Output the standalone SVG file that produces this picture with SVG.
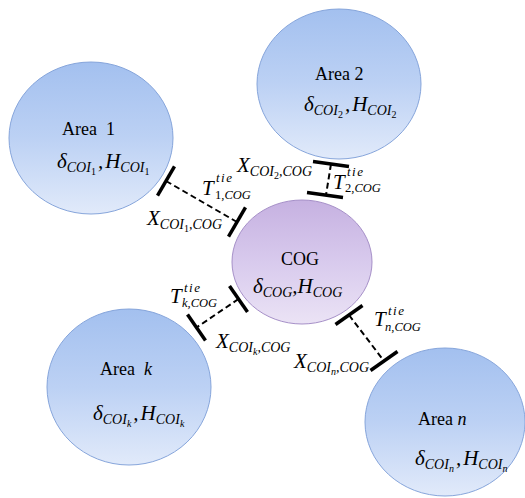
<svg xmlns="http://www.w3.org/2000/svg" width="525" height="498" viewBox="0 0 525 498">
<defs>
<linearGradient id="gb" x1="0" y1="0" x2="0" y2="1">
<stop offset="0" stop-color="#a3c0ef"/>
<stop offset="0.5" stop-color="#bcd1f4"/>
<stop offset="1" stop-color="#e1eafa"/>
</linearGradient>
<linearGradient id="gp" x1="0" y1="0" x2="0" y2="1">
<stop offset="0" stop-color="#c6b1e1"/>
<stop offset="0.5" stop-color="#d8caed"/>
<stop offset="1" stop-color="#ebe3f5"/>
</linearGradient>
<style>
.area{fill:url(#gb);stroke:#86a5db;stroke-width:1}
.cog{fill:url(#gp);stroke:#a690c8;stroke-width:1}
.n{font-family:"Liberation Serif","Times New Roman",serif;font-size:18px;fill:#000}
.m{font-family:"Liberation Serif","Times New Roman",serif;font-style:italic;font-size:21px;fill:#000}
.s{font-size:14px}
.t{font-size:12.5px}
.ss{font-size:10px}
.up{font-style:normal}
.sup{font-size:13px;letter-spacing:1.5px}
.dash{stroke:#000;stroke-width:2;stroke-dasharray:6 3.5;fill:none}
.tick{stroke:#000;stroke-width:3.5;fill:none}
</style>
</defs>
<rect width="525" height="498" fill="#fff"/>

<g id="connectors">
<line class="dash" x1="166" y1="181" x2="237" y2="222"/>
<line class="tick" x1="174.5" y1="166.3" x2="157.5" y2="195.7"/>
<line class="tick" x1="245.5" y1="207.3" x2="228.5" y2="236.7"/>

<line class="dash" x1="331" y1="164" x2="326" y2="195"/>
<line class="tick" x1="313" y1="161.5" x2="349" y2="166.5"/>
<line class="tick" x1="307" y1="192.5" x2="343" y2="197.5"/>

<line class="dash" x1="238.5" y1="299" x2="196.5" y2="327.5"/>
<line class="tick" x1="229.5" y1="286" x2="247.5" y2="312"/>
<line class="tick" x1="187.5" y1="314.5" x2="205.5" y2="340.5"/>

<line class="dash" x1="349" y1="315" x2="384" y2="361"/>
<line class="tick" x1="335.5" y1="324.5" x2="362.5" y2="305.5"/>
<line class="tick" x1="370.5" y1="370.5" x2="397.5" y2="351.5"/>

<text class="m" x="147" y="225">X<tspan class="s" dy="4">COI</tspan><tspan class="ss up" dy="3">1</tspan><tspan class="s" dy="-3">,COG</tspan></text>
<text class="m" x="202" y="195">T<tspan class="sup" x="216" y="182">tie</tspan><tspan class="t" x="215" y="199"><tspan class="up">1</tspan>,COG</tspan></text>

<text class="m" x="237" y="172">X<tspan class="s" dy="4">COI</tspan><tspan class="ss up" dy="3">2</tspan><tspan class="s" dy="-3">,COG</tspan></text>
<text class="m" x="333" y="189">T<tspan class="sup" x="347" y="176">tie</tspan><tspan class="t" x="345" y="192"><tspan class="up">2</tspan>,COG</tspan></text>

<text class="m" x="170" y="303">T<tspan class="sup" x="184" y="292">tie</tspan><tspan class="t" x="182" y="307">k,COG</tspan></text>
<text class="m" x="216" y="348">X<tspan class="s" dy="4">COI</tspan><tspan class="ss" dy="3">k</tspan><tspan class="s" dy="-3">,COG</tspan></text>

<text class="m" x="374" y="326">T<tspan class="sup" x="388" y="315">tie</tspan><tspan class="t" x="385" y="331">n,COG</tspan></text>
<text class="m" x="294" y="368">X<tspan class="s" dy="4">COI</tspan><tspan class="ss" dy="3">n</tspan><tspan class="s" dy="-3">,COG</tspan></text>
</g>

<g id="area1">
<ellipse class="area" cx="91" cy="138" rx="82" ry="76"/>
<text class="n" x="62" y="135" xml:space="preserve">Area  1</text>
<text class="m" x="57" y="168">δ<tspan class="s" dy="4">COI</tspan><tspan class="ss up" dy="3">1</tspan><tspan dy="-7" dx="2">,</tspan><tspan dx="2">H</tspan><tspan class="s" dy="4">COI</tspan><tspan class="ss up" dy="3">1</tspan></text>
</g>

<g id="area2">
<ellipse class="area" cx="339" cy="84" rx="82" ry="75"/>
<text class="n" x="315" y="80">Area 2</text>
<text class="m" x="304" y="111">δ<tspan class="s" dy="4">COI</tspan><tspan class="ss up" dy="3">2</tspan><tspan dy="-7" dx="2">,</tspan><tspan dx="2">H</tspan><tspan class="s" dy="4">COI</tspan><tspan class="ss up" dy="3">2</tspan></text>
</g>

<g id="cog">
<ellipse class="cog" cx="302" cy="262" rx="70" ry="62"/>
<text class="n" x="281" y="265" font-size="19">COG</text>
<text class="m" x="253" y="293">δ<tspan class="s" dy="4">COG</tspan><tspan dy="-4">,H</tspan><tspan class="s" dy="4">COG</tspan></text>
</g>

<g id="areak">
<ellipse class="area" cx="129" cy="387" rx="82" ry="78"/>
<text class="n" x="100" y="375" xml:space="preserve">Area  <tspan font-style="italic">k</tspan></text>
<text class="m" x="93" y="420">δ<tspan class="s" dy="4">COI</tspan><tspan class="ss" dy="3">k</tspan><tspan dy="-7" dx="2">,</tspan><tspan dx="2">H</tspan><tspan class="s" dy="4">COI</tspan><tspan class="ss" dy="3">k</tspan></text>
</g>

<g id="arean">
<ellipse class="area" cx="445" cy="422" rx="80" ry="74"/>
<text class="n" x="418" y="425">Area <tspan font-style="italic">n</tspan></text>
<text class="m" x="415" y="465">δ<tspan class="s" dy="4">COI</tspan><tspan class="ss" dy="3">n</tspan><tspan dy="-7" dx="2">,</tspan><tspan dx="2">H</tspan><tspan class="s" dy="4">COI</tspan><tspan class="ss" dy="3">n</tspan></text>
</g>
</svg>
